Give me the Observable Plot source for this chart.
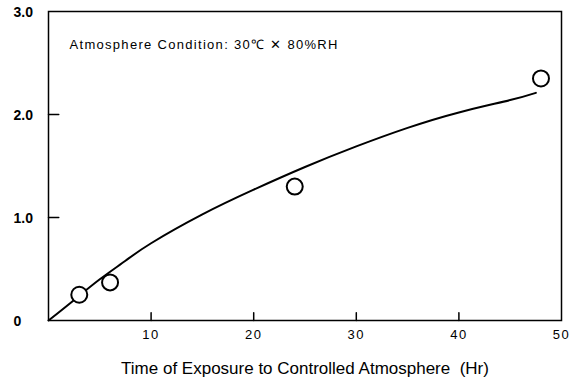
<!DOCTYPE html>
<html><head><meta charset="utf-8">
<script src="https://cdn.jsdelivr.net/npm/d3@7"></script>
<script src="https://cdn.jsdelivr.net/npm/@observablehq/plot@0.6"></script>
<style>
body{margin:0;background:#fff;font-family:"Liberation Sans",Arial,sans-serif}
g.annot text{letter-spacing:1.3px}
g.xlab text{letter-spacing:1.5px}
</style>
</head><body><div id="chart"></div>
<script>
const pointHours = [3, 6, 24, 48];
const pointValues = [0.25, 0.37, 1.30, 2.35];
const curveHours = [0, 2.5, 5, 7.5, 10, 15, 20, 25, 30, 35, 40, 45, 47.5];
const curveValues = [0, 0.2, 0.4, 0.58, 0.75, 1.03, 1.27, 1.49, 1.69, 1.87, 2.02, 2.14, 2.21];
const xTicks = [10, 20, 30, 40, 50];
const xTickMarks = [10, 20, 30, 40];
const yTicks = [0, 1, 2, 3];
const yTickLabels = ["0", "1.0", "2.0", "3.0"];
const yTickMarks = [1, 2];
const annotation = "Atmosphere Condition: 30\u2103 \u2715 80%RH";
const xTitle = "Time of Exposure to Controlled Atmosphere  (Hr)";

const points = pointHours.map((h, i) => ({h, v: pointValues[i]}));
const curve = curveHours.map((h, i) => ({h, v: curveValues[i]}));
// tick segments: two ends per tick, grouped by key
const xTickSegs = xTickMarks.flatMap(h => [{k: "x" + h, h, v: 0}, {k: "x" + h, h, v: 0.075}]);
const yTickSegs = yTickMarks.flatMap(v => [{k: "y" + v, h: 0, v}, {k: "y" + v, h: 1.0, v}]);

const chart = Plot.plot({
  width: 577, height: 383,
  marginLeft: 48, marginRight: 16, marginTop: 11, marginBottom: 63,
  style: {fontFamily: "Liberation Sans, Arial, sans-serif", background: "#fff", color: "#000"},
  x: {domain: [0, 50], axis: null},
  y: {domain: [0, 3], axis: null},
  marks: [
    Plot.frame({stroke: "#000", strokeWidth: 1.5}),
    Plot.line(xTickSegs, {x: "h", y: "v", z: "k", stroke: "#000", strokeWidth: 1.5}),
    Plot.line(yTickSegs, {x: "h", y: "v", z: "k", stroke: "#000", strokeWidth: 1.5}),
    Plot.text(xTicks, {x: d => d, frameAnchor: "bottom", dy: 18, fontSize: 13, fill: "#000", className: "xlab"}),
    Plot.text(yTicks, {y: d => d, text: (d, i) => yTickLabels[i], frameAnchor: "left", dx: -35, dy: 1,
      textAnchor: "start", fontSize: 14, fontWeight: "bold", fill: "#000"}),
    Plot.text([xTitle], {frameAnchor: "bottom", dy: 53, fontSize: 17, fill: "#000"}),
    Plot.line(curve, {x: "h", y: "v", curve: "natural", stroke: "#000", strokeWidth: 2}),
    Plot.dot(points, {x: "h", y: "v", r: 8, stroke: "#000", strokeWidth: 2, fill: "#fff"}),
    Plot.text([annotation], {frameAnchor: "top-left", dx: 21, dy: 33, lineAnchor: "middle", fontSize: 13,
      textAnchor: "start", fill: "#000", className: "annot"})
  ]
});
document.getElementById("chart").appendChild(chart);
</script>
</body></html>
